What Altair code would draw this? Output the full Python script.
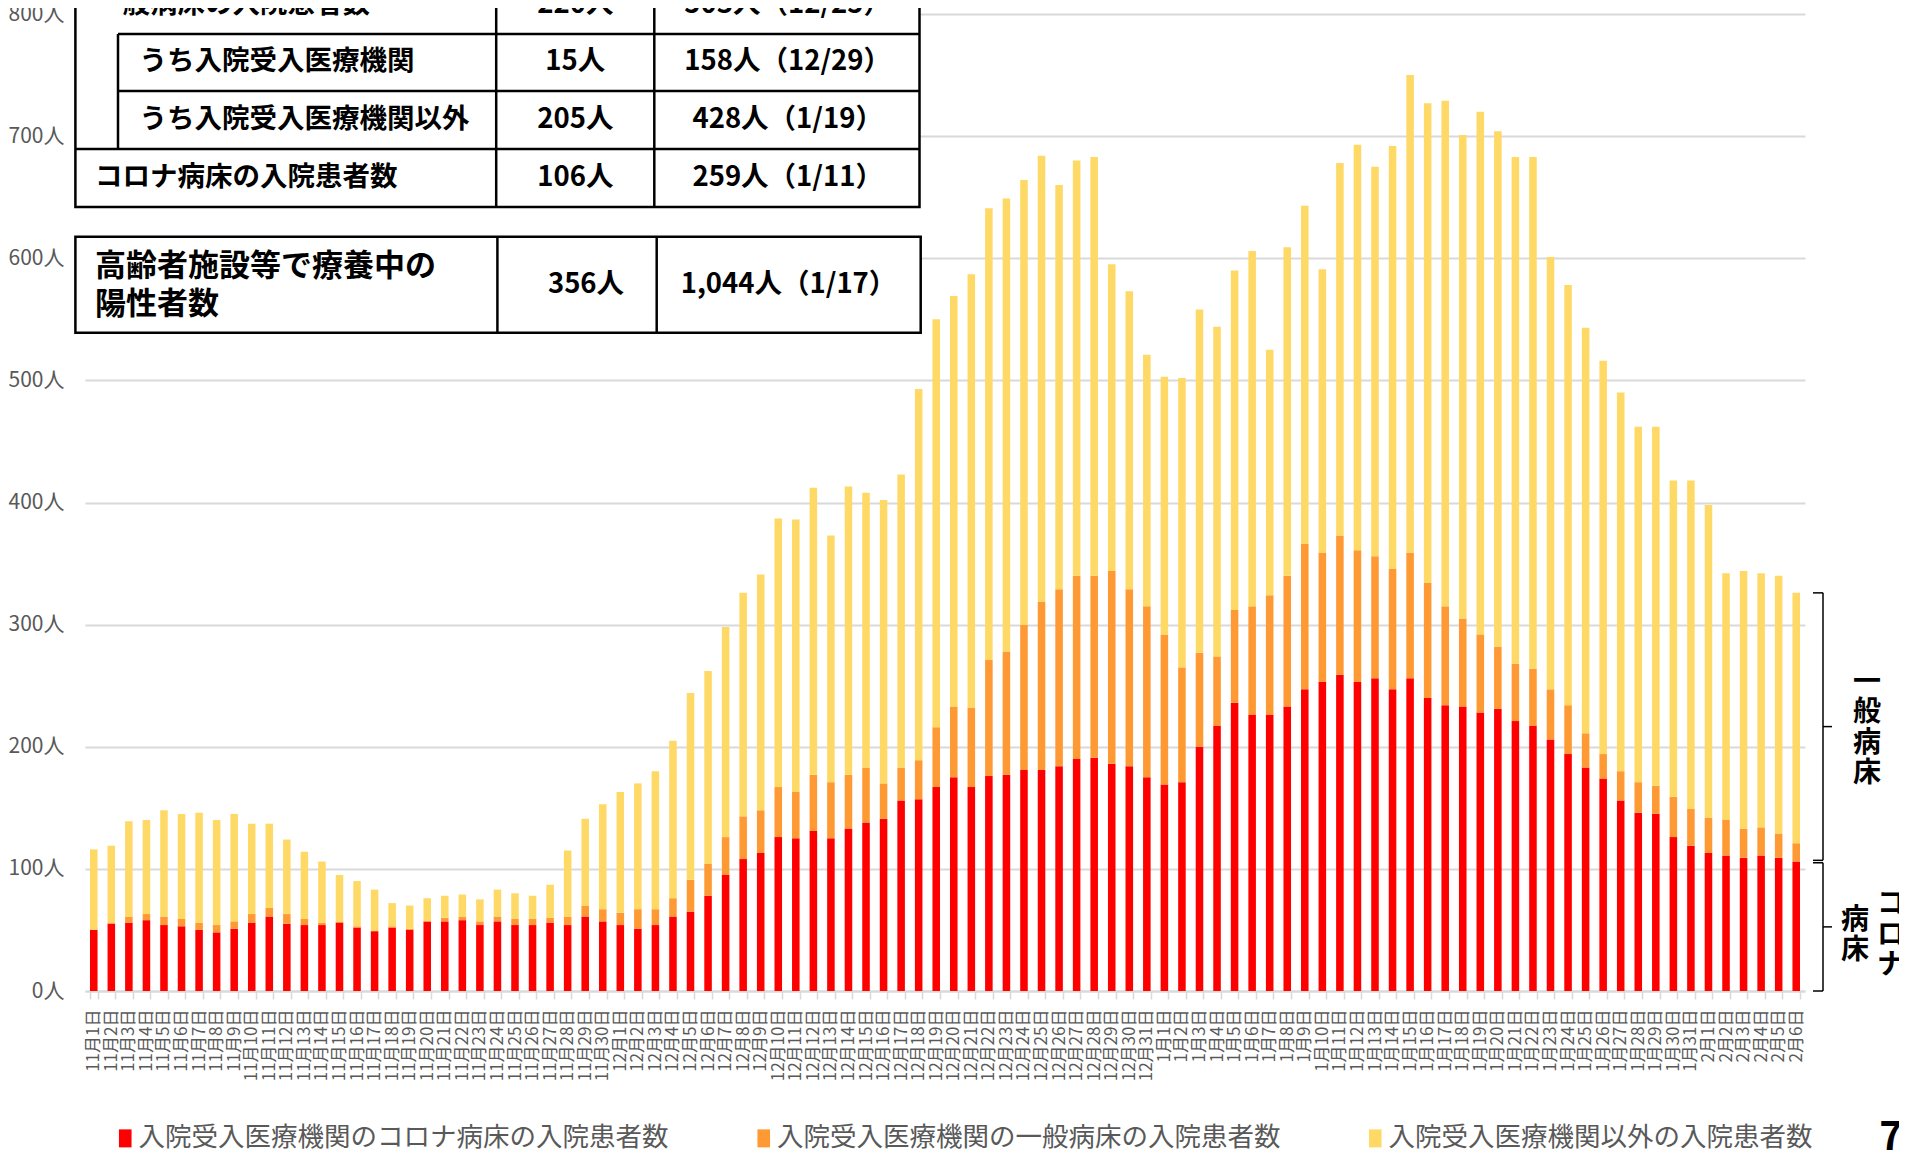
import altair as alt
import pandas as pd

FONT = "Noto Sans CJK JP"
AXFONT = "Noto Sans CJK JP"

months = [("11", 30), ("12", 31), ("1", 31), ("2", 6)]
dates = [f"{m}月{d}日" for m, n in months for d in range(1, n + 1)]

S1 = "入院受入医療機関のコロナ病床の入院患者数"
S2 = "入院受入医療機関の一般病床の入院患者数"
S3 = "入院受入医療機関以外の入院患者数"
series_names = [S1, S2, S3]
series_colors = ["#FF0000", "#FF9933", "#FFD966"]

red = [50, 55, 56, 58, 54, 53, 50, 48, 51, 56,
       61, 55, 54, 54, 56, 52, 49, 52, 50, 57,
       57, 58, 54, 57, 54, 54, 56, 54, 61, 57,
       54, 51, 54, 61, 65, 78, 95, 108, 113, 126,
       125, 131, 125, 133, 138, 141, 156, 157, 167, 175,
       167, 176, 177, 181, 181, 184, 190, 191, 186, 184,
       175, 169, 171, 200, 217, 236, 226, 226, 233, 247,
       253, 259, 253, 256, 247, 256, 240, 234, 233, 228,
       231, 221, 217, 206, 194, 183, 174, 156, 146, 145,
       126, 119, 113, 111, 109, 111, 109, 106]
orange = [0, 1, 5, 5, 7, 6, 6, 6, 6, 7,
          7, 8, 5, 2, 1, 1, 0, 1, 1, 0,
          3, 3, 3, 4, 5, 5, 4, 7, 9, 10,
          10, 16, 13, 15, 26, 26, 31, 35, 35, 41,
          38, 46, 46, 44, 45, 29, 27, 32, 49, 58,
          65, 95, 101, 119, 138, 145, 150, 149, 158, 145,
          140, 123, 94, 77, 57, 76, 89, 98, 107, 119,
          106, 114, 108, 100, 99, 103, 94, 81, 72, 64,
          51, 47, 47, 41, 40, 28, 20, 24, 25, 23,
          33, 30, 29, 29, 24, 23, 20, 15]
yellow = [66, 63, 78, 77, 87, 86, 90, 86, 88, 74,
          69, 61, 55, 50, 38, 37, 34, 19, 19, 19,
          18, 18, 18, 22, 21, 19, 27, 54, 71, 86,
          99, 103, 113, 129, 153, 158, 172, 183, 193, 220,
          223, 235, 202, 236, 225, 232, 240, 304, 334, 336,
          355, 370, 371, 364, 365, 331, 340, 343, 251, 244,
          206, 211, 237, 281, 270, 278, 291, 201, 269, 277,
          232, 305, 332, 319, 346, 391, 393, 414, 396, 428,
          422, 415, 419, 354, 344, 332, 322, 310, 291, 294,
          259, 269, 256, 202, 211, 208, 211, 205]

y_ticks = list(range(0, 801, 100))

# table texts
tbl_left_text = ["一般病床の入院患者数", "うち入院受入医療機関", "うち入院受入医療機関以外",
                 "コロナ病床の入院患者数", "高齢者施設等で療養中の", "陽性者数"]
tbl_now = ["220人", "15人", "205人", "106人", "356人"]
tbl_peak = ["503人（12/25）", "158人（12/29）", "428人（1/19）", "259人（1/11）", "1,044人（1/17）"]

brace_labels = ["一\n般\n病\n床", "病\n床", "コ\nロ\nナ"]
page_no = "7"

# ---------------- data frames ----------------
rows = []
for i, d in enumerate(dates):
    for k, (s, vals) in enumerate(zip(series_names, [red, orange, yellow])):
        rows.append({"date": d, "series": s, "value": vals[i], "ord": k})
df = pd.DataFrame(rows)

W, H = 1720, 977


def yscale():
    return alt.Scale(domain=[0, 800], nice=False, zero=True)


bars = alt.Chart(df).mark_bar().encode(
    x=alt.X("date:N", sort=dates,
            scale=alt.Scale(paddingInner=0.57, paddingOuter=0.285),
            axis=alt.Axis(title=None, labelAngle=270, labelFontSize=17, labelColor="#595959",
                          labelFont=AXFONT, labelOverlap=False, tickBand="extent",
                          tickColor="#d9d9d9", tickSize=8, tickWidth=1.5,
                          domainColor="#d9d9d9", domainWidth=1.8, labelPadding=10,
                          grid=False, labelAlign="right", labelBaseline="middle")),
    y=alt.Y("value:Q", stack="zero", scale=yscale(),
            axis=alt.Axis(title=None, values=y_ticks, labelExpr="datum.value + '人'",
                          grid=True, gridColor="#d9d9d9", gridWidth=1.8, domain=False,
                          ticks=False, labelFontSize=21, labelColor="#595959", labelFont=AXFONT,
                          labelPadding=21, orient="left")),
    color=alt.Color("series:N",
                    scale=alt.Scale(domain=series_names, range=series_colors),
                    legend=alt.Legend(title=None, orient="none", legendX=25, legendY=1111,
                                      direction="horizontal",
                                      symbolType="M-0.7,-1H0.7V1H-0.7Z", symbolSize=324,
                                      symbolStrokeWidth=0, symbolOpacity=1, symbolOffset=2,
                                      labelFontSize=26.5, labelColor="#595959", labelFont=FONT,
                                      labelOffset=0, columnPadding=79.5, labelLimit=800,
                                      padding=0)),
    order=alt.Order("ord:Q"),
)

# table geometry (pixel positions relative to plot origin)
ox, oy = 85, 14
t1 = dict(l=75.4 - ox, r=919.5 - ox, t=-23 - oy, b=207 - oy)
t2 = dict(l=75.4 - ox, r=920.7 - ox, t=236.7 - oy, b=332.7 - oy)
c1, c2, ind = 496.2 - ox, 654.3 - ox, 118 - ox
h1, h2, h3 = 34 - oy, 91 - oy, 149 - oy
c1b, c2b = 497.4 - ox, 656.7 - ox

rect_df = pd.DataFrame([
    {"px": t1["l"], "px2": t1["r"], "py": t1["t"], "py2": t1["b"]},
    {"px": t2["l"], "px2": t2["r"], "py": t2["t"], "py2": t2["b"]},
])
rects = alt.Chart(rect_df).mark_rect(fill="white", stroke="black", strokeWidth=2.5).encode(
    x=alt.X("px:Q", scale=None, axis=None), x2="px2:Q",
    y=alt.Y("py:Q", scale=None, axis=None), y2="py2:Q")

line_df = pd.DataFrame([
    {"px": c1, "px2": c1, "py": t1["t"], "py2": t1["b"]},
    {"px": c2, "px2": c2, "py": t1["t"], "py2": t1["b"]},
    {"px": ind, "px2": ind, "py": h1, "py2": h3},
    {"px": ind, "px2": t1["r"], "py": h1, "py2": h1},
    {"px": ind, "px2": t1["r"], "py": h2, "py2": h2},
    {"px": t1["l"], "px2": t1["r"], "py": h3, "py2": h3},
    {"px": c1b, "px2": c1b, "py": t2["t"], "py2": t2["b"]},
    {"px": c2b, "px2": c2b, "py": t2["t"], "py2": t2["b"]},
])
lines = alt.Chart(line_df).mark_rule(color="black", strokeWidth=2.5).encode(
    x=alt.X("px:Q", scale=None, axis=None), x2="px2:Q",
    y=alt.Y("py:Q", scale=None, axis=None), y2="py2:Q")

r0, r1, r2, r3 = 5 - oy, 61.7 - oy, 120 - oy, 178 - oy
left_df = pd.DataFrame({
    "px": [10, 54.4, 54.4, 10, 10, 10],
    "py": [r0, r1, r2, r3, 267 - oy, 305 - oy],
    "sz": [27.5, 27.5, 27.5, 27.5, 31, 31],
    "txt": tbl_left_text,
})
left_txt = alt.Chart(left_df).mark_text(align="left", baseline="middle", fontWeight="bold",
                                         font=FONT, color="black").encode(
    x=alt.X("px:Q", scale=None, axis=None), y=alt.Y("py:Q", scale=None, axis=None),
    size=alt.Size("sz:Q", scale=None, legend=None), text="txt:N")

ctr_df = pd.DataFrame({
    "px": [490.3, 490.3, 490.3, 490.3, 501, 702.7, 702.7, 702.7, 702.7, 703.5],
    "py": [r0, r1, r2, r3, 285 - oy, r0, r1, r2, r3, 285 - oy],
    "txt": tbl_now + tbl_peak,
})
ctr_txt = alt.Chart(ctr_df).mark_text(align="center", baseline="middle", fontWeight="bold",
                                       font=FONT, color="black", fontSize=27.5).encode(
    x=alt.X("px:Q", scale=None, axis=None), y=alt.Y("py:Q", scale=None, axis=None),
    text="txt:N")

# right-side braces, spanning the last day's stacked values
tot_last = red[-1] + orange[-1] + yellow[-1]
red_last = red[-1]
bx, bl, br = 1738, 1728, 1747
spans = [(tot_last, red_last + 1), (red_last - 1, 0)]
bdf_rows = []
for top, bot in spans:
    mid = (top + bot) / 2
    bdf_rows += [
        {"px": bx, "px2": bx, "v": top, "v2": bot},
        {"px": bl, "px2": bx, "v": top, "v2": top},
        {"px": bl, "px2": bx, "v": bot, "v2": bot},
        {"px": bx, "px2": br, "v": mid, "v2": mid},
    ]
brace = alt.Chart(pd.DataFrame(bdf_rows)).mark_rule(color="black", strokeWidth=1.5).encode(
    x=alt.X("px:Q", scale=None, axis=None), x2="px2:Q",
    y=alt.Y("v:Q", scale=yscale(), axis=None), y2="v2:Q")

mid1 = (spans[0][0] + spans[0][1]) / 2
mid2 = (spans[1][0] + spans[1][1]) / 2
LH = 30.5


def brace_text(px, v, txt, dy):
    d = pd.DataFrame({"px": [px], "v": [v], "txt": [txt]})
    return alt.Chart(d).mark_text(align="center", baseline="middle", fontWeight="bold",
                                  font=FONT, color="black", fontSize=28,
                                  lineBreak="\n", lineHeight=LH, dy=dy).encode(
        x=alt.X("px:Q", scale=None, axis=None),
        y=alt.Y("v:Q", scale=yscale(), axis=None),
        text="txt:N")


bt1 = brace_text(1782, mid1, brace_labels[0], -1.5 * LH + 2)
bt2 = brace_text(1770, mid2, brace_labels[1], -0.5 * LH + 9)
bt3 = brace_text(1806, mid2, brace_labels[2], -1.0 * LH + 9)

pg_df = pd.DataFrame({"px": [1806], "py": [1124], "txt": [page_no]})
pg = alt.Chart(pg_df).mark_text(align="center", baseline="middle", fontWeight="bold",
                                font=FONT, color="black", fontSize=40).encode(
    x=alt.X("px:Q", scale=None, axis=None), y=alt.Y("py:Q", scale=None, axis=None),
    text="txt:N")

chart = alt.layer(bars, rects, lines, left_txt, ctr_txt, brace, bt1, bt2, bt3, pg).resolve_scale(
    y="independent"
).properties(
    width=W, height=H,
    padding={"left": 77, "top": 6, "right": 94, "bottom": 161},
    autosize=alt.AutoSizeParams(type="none"),
).configure_view(strokeWidth=0)

chart.save("out.html", embed_options={"renderer": "svg", "actions": False})
